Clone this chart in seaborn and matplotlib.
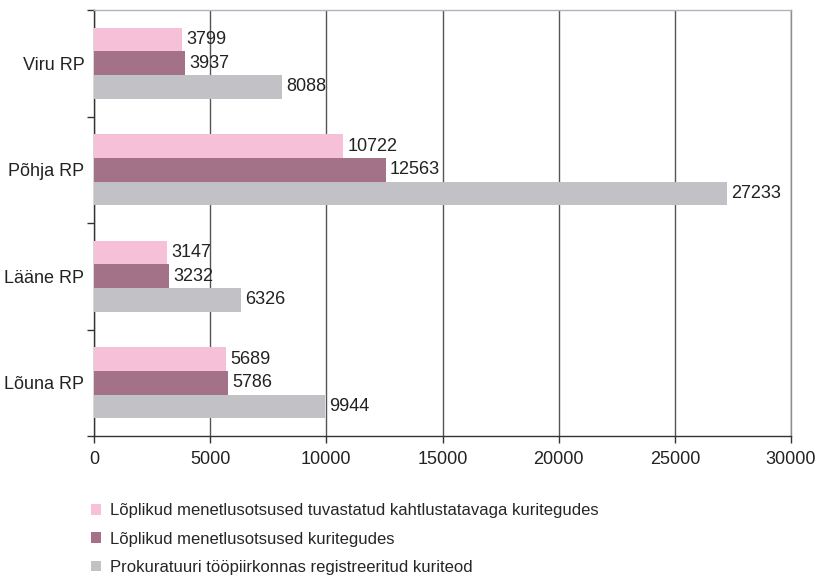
import matplotlib
matplotlib.use("Agg")
import matplotlib.pyplot as plt
from matplotlib.patches import Patch
import seaborn as sns
import pandas as pd

regions = ["Viru RP", "Põhja RP", "Lääne RP", "Lõuna RP"]
series = [
    "Lõplikud menetlusotsused tuvastatud kahtlustatavaga kuritegudes",
    "Lõplikud menetlusotsused kuritegudes",
    "Prokuratuuri tööpiirkonnas registreeritud kuriteod",
]
final_with_suspect = [3799, 10722, 3147, 5689]
final_decisions = [3937, 12563, 3232, 5786]
registered = [8088, 27233, 6326, 9944]
x_ticks = [0, 5000, 10000, 15000, 20000, 25000, 30000]

colors = ["#F5C0D8", "#A37289", "#C2C2C6"]

rows = []
for name, vals in zip(series, [final_with_suspect, final_decisions, registered]):
    for r, v in zip(regions, vals):
        rows.append({"region": r, "series": name, "value": v})
df = pd.DataFrame(rows)

sns.set_style("white")
plt.rcParams["font.family"] = ["Liberation Sans", "DejaVu Sans"]

fig = plt.figure(figsize=(8.22, 5.76), dpi=100)
ax = fig.add_axes([94 / 822, 1 - 436 / 576, (791 - 94) / 822, (436 - 10) / 576])

sns.barplot(data=df, x="value", y="region", hue="series", order=regions,
            hue_order=series, palette=colors, orient="h", width=0.667,
            saturation=1, ax=ax, legend=False, zorder=3, linewidth=0,
            edgecolor="none")

for c in ax.containers:
    ax.bar_label(c, labels=[f"{int(v)}" for v in c.datavalues], padding=3,
                 fontsize=13, color="#222222")

ax.set_xlim(0, 30000)
ax.set_ylim(3.5, -0.5)
ax.set_xticks(x_ticks)
ax.set_xticklabels([str(t) for t in x_ticks], fontsize=13, color="#222222")
ax.set_yticks(range(len(regions)))
ax.set_yticklabels(regions, fontsize=13, color="#222222")
ax.tick_params(axis="y", which="major", left=False, length=0, pad=7)
ax.set_yticks([i - 0.5 for i in range(len(regions) + 1)], minor=True)
ax.tick_params(axis="y", which="minor", left=True, length=5, width=1,
               direction="out", color="#333333")
ax.tick_params(axis="x", bottom=True, length=5, width=1, direction="out",
               color="#333333", pad=6)
ax.set_xlabel("")
ax.set_ylabel("")

ax.grid(axis="x", color="#555555", linewidth=1, zorder=0)
ax.set_axisbelow(True)
ax.spines["left"].set_color("#333333")
ax.spines["bottom"].set_color("#333333")
ax.spines["top"].set_color("#AEB4BC")
ax.spines["right"].set_color("#8A8F96")
for s in ax.spines.values():
    s.set_linewidth(1)

handles = [Patch(facecolor=c, edgecolor="none", label=s) for c, s in zip(colors, series)]
fig.legend(handles=handles, loc="upper left", bbox_to_anchor=(0.103, 0.138),
           frameon=False, fontsize=12, handlelength=0.6, handleheight=0.6,
           handletextpad=0.55, labelspacing=0.8, borderaxespad=0)

fig.savefig("out.png", dpi=100)
